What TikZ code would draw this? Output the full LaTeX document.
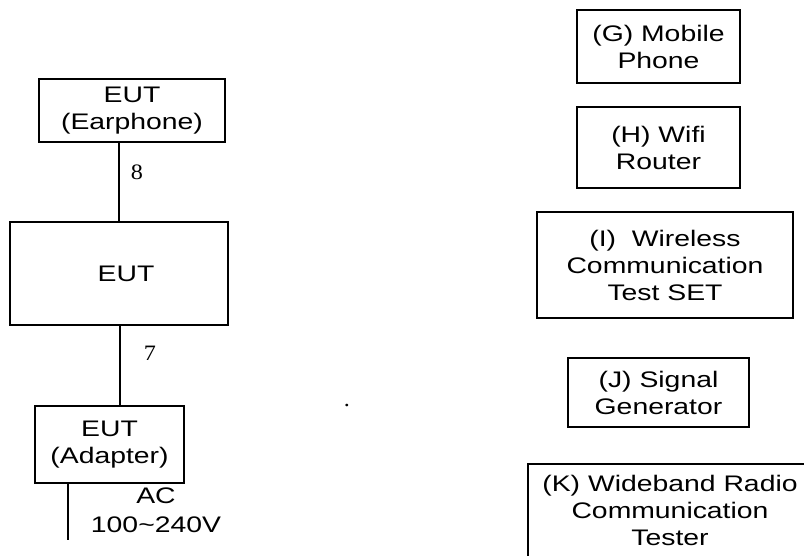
\documentclass[tikz,border=0pt]{standalone}
\usepackage{fontspec}
\setmainfont{Liberation Sans}
\newfontfamily\boxfont[FakeStretch=1.26]{Liberation Sans}
\newfontfamily\numfont[FakeStretch=1.1]{Liberation Serif}
\begin{document}
\begin{tikzpicture}[x=1pt,y=-1pt,
  box/.style={draw, line width=1.4pt, inner sep=0pt, align=center,
    font=\boxfont\fontsize{22.5}{27}\selectfont},
  lbl/.style={inner sep=0pt, align=center, font=\boxfont\fontsize{22.5}{29}\selectfont},
  num/.style={inner sep=0pt, font=\numfont\fontsize{22}{26}\selectfont},
  wire/.style={line width=1.4pt}]
\useasboundingbox (0,0) rectangle (804,555);
\clip (0,0) rectangle (804,555);
% left chain
\node[box, minimum width=186pt, minimum height=63pt] (ear) at (132,110.5) {EUT\\(Earphone)};
\node[box, minimum width=218pt, minimum height=103pt] (eut) at (119,273.5) {\hspace*{14pt}EUT};
\node[box, minimum width=149pt, minimum height=77pt] (ada) at (109.5,444.5) {EUT\\(Adapter)};
\coordinate (acend) at (68,540);
\draw[wire] (ear.south -| 119,0) -- (eut.north -| 119,0);
\draw[wire] (eut.south -| 120,0) -- (ada.north -| 120,0);
\draw[wire] (ada.south -| acend) -- (acend);
\node[num] (n8) at (137,172) {8};
\node[num] (n7) at (150,353) {7};
\node[lbl] (ac) at (156,510) {AC\\100\textasciitilde240V};
\node[num, anchor=base] (dot) at (347,406) {.};
% right column
\node[box, minimum width=163pt, minimum height=73pt] (g) at (658.5,46.5) {(G) Mobile\\Phone};
\node[box, minimum width=163pt, minimum height=81pt] (h) at (658.5,147.5) {(H) Wifi\\Router};
\node[box, minimum width=256pt, minimum height=106pt] (i) at (665,265) {(I)\ \ Wireless\\Communication\\Test SET};
\node[box, minimum width=181pt, minimum height=69pt] (j) at (658.5,392.5) {(J) Signal\\Generator};
\node[box, draw=none] (k) at (670,510) {(K) Wideband Radio\\Communication\\Tester};
\draw[wire] (528,600) -- (528,464) -- (840,464);
\end{tikzpicture}
\end{document}
